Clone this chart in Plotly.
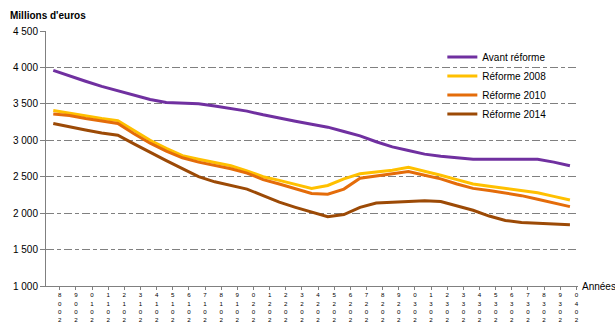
import plotly.graph_objects as go

years = list(range(2008, 2041))

avant_reforme = [3960, 3880, 3810, 3740, 3680, 3620, 3560, 3520, 3510, 3500,
                 3470, 3440, 3400, 3350, 3300, 3260, 3220, 3180, 3120, 3060,
                 2980, 2910, 2860, 2810, 2780, 2760, 2740, 2740, 2740, 2740,
                 2740, 2700, 2650]
reforme_2008 = [3410, 3370, 3330, 3300, 3270, 3130, 3000, 2890, 2790, 2740,
                2700, 2650, 2580, 2500, 2450, 2390, 2340, 2380, 2470, 2540,
                2560, 2590, 2630, 2580, 2520, 2460, 2400, 2370, 2340, 2310,
                2280, 2230, 2180]
reforme_2010 = [3360, 3340, 3300, 3260, 3230, 3090, 2960, 2850, 2760, 2700,
                2660, 2610, 2550, 2460, 2400, 2330, 2270, 2260, 2330, 2480,
                2510, 2530, 2570, 2520, 2470, 2400, 2340, 2310, 2280, 2240,
                2190, 2140, 2090]
reforme_2014 = [3230, 3180, 3140, 3100, 3070, 2950, 2830, 2720, 2610, 2500,
                2430, 2380, 2330, 2240, 2150, 2080, 2020, 1950, 1980, 2080,
                2140, 2150, 2150, 2170, 2160, 2100, 2040, 1960, 1900, 1870,
                1860, 1860, 1840]

series = [
    ("Avant réforme", avant_reforme, "#7030A0"),
    ("Réforme 2008", reforme_2008, "#FFC000"),
    ("Réforme 2010", reforme_2010, "#E46C0A"),
    ("Réforme 2014", reforme_2014, "#9C4A06"),
]

y_ticks = [1000, 1500, 2000, 2500, 3000, 3500, 4000, 4500]
# stacked year labels (digits top-to-bottom, last digit first, as in the source)
x_ticktext = ["<br>".join(reversed(str(yr))) for yr in years]

FONT = "Liberation Sans, Arial, sans-serif"
LABEL_OFFSET = 0.4   # tick/label offset within category (years)

fig = go.Figure()
for name, vals, col in series:
    fig.add_trace(go.Scatter(x=years, y=vals, mode="lines", name=name,
                             line=dict(color=col, width=3)))

fig.update_layout(
    width=615, height=326,
    margin=dict(l=46, r=37, t=31, b=40),
    paper_bgcolor="white", plot_bgcolor="white",
    separators=", ",
    font=dict(family=FONT, size=10, color="#000000"),
    showlegend=True,
    legend=dict(x=0.745, y=0.955, xanchor="left", yanchor="top",
                bgcolor="rgba(0,0,0,0)", font=dict(size=10),
                tracegroupgap=0),
    xaxis=dict(range=[2007.55, 2040.5], tickmode="array",
               tickvals=[yr + LABEL_OFFSET for yr in years],
               ticktext=x_ticktext, tickangle=0, automargin=False,
               tickfont=dict(size=6.2, family=FONT, color="#000000"),
               ticklabelstandoff=0,
               showgrid=False, zeroline=False, showline=True,
               linecolor="#808080", linewidth=1,
               ticks="outside", ticklen=3, tickcolor="#808080"),
    yaxis=dict(range=[1000, 4500], tickmode="array", tickvals=y_ticks,
               tickformat=",d", tickfont=dict(size=10, family=FONT),
               automargin=False,
               showgrid=True, gridcolor="#808080", gridwidth=1.3,
               griddash="8px,3px,4px,3px",
               zeroline=False, showline=True, linecolor="#808080", linewidth=1,
               ticks="outside", ticklen=5, tickcolor="#808080"),
    annotations=[
        dict(text="<b>Millions d'euros</b>", xref="paper", yref="paper",
             x=(8 - 46) / 532, y=1 + 15 / 255, xanchor="left", yanchor="middle",
             showarrow=False, font=dict(size=10, family=FONT)),
        dict(text="Années", xref="paper", yref="paper",
             x=(580 - 46) / 532, y=0, xanchor="left", yanchor="middle",
             showarrow=False, font=dict(size=10, family=FONT)),
    ],
)

fig.write_html("out.html")
